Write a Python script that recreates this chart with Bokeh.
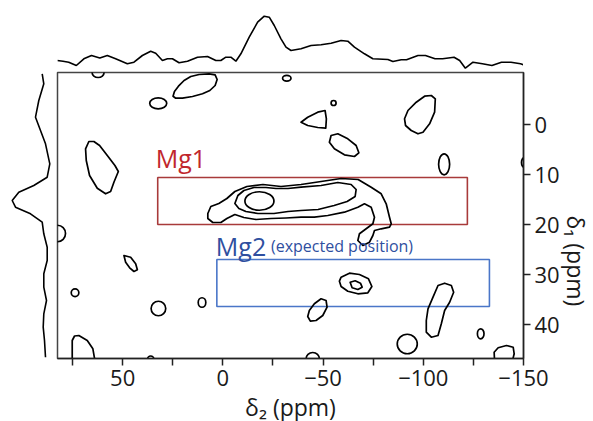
import math
from bokeh.plotting import figure
from bokeh.models import Range1d, FixedTicker, Spacer
from bokeh.layouts import row, column
from bokeh.embed import file_html
from bokeh.resources import INLINE
from bokeh.core.properties import value

# ---------------- axes ----------------
X_START, X_END = 82.5, -150.0      # delta2 (ppm), reversed
Y_START, Y_END = 46.8, -10.4       # delta1 (ppm), reversed (0 at top)
x_ticks = [75, 50, 25, 0, -25, -50, -75, -100, -125, -150]
x_tick_labels = {75: "", 50: "50", 25: "", 0: "0", -25: "", -50: "\u221250",
                 -75: "", -100: "\u2212100", -125: "", -150: "\u2212150"}
y_ticks = [0, 10, 20, 30, 40]
y_tick_labels = {0: "0", 10: "10", 20: "20", 30: "30", 40: "40"}

# ---------------- 1D projections ----------------
top_ppm = [82.6, 79.75, 76.9, 73.1, 69.35, 65.55, 61.4, 57.65, 53.5, 47.65,
           44.35, 40.15, 36, 33.5, 30.15, 27.65, 25.15, 21.85, 17.65, 12.65,
           7.65, 3.5, 1, -1.5, -4, -6.5, -9, -13.15, -17.35, -20.65,
           -23.15, -25.65, -29, -31.5, -34, -39, -44, -49, -54, -59,
           -62.35, -65.65, -70.65, -74.85, -82.35, -84.85, -89, -91.65, -97.35, -101.1,
           -105.85, -109.65, -115.35, -118.15, -121, -124.8, -129.5, -134.25, -139, -143.75,
           -148.5, -151.3]
top_int = [12, 11.3, 10.3, 7, 13.7, 17, 14.5, 17, 13.7, 8.7,
           10.3, 17, 21.3, 19.3, 12, 13.7, 13.7, 9.7, 11.3, 15.3,
           16, 12, 12, 15.3, 15.3, 11.3, 18.7, 35.3, 50.3, 56.3,
           55.3, 47, 33.7, 25.3, 22, 23.7, 27, 27.7, 29.3, 32,
           31.3, 25.3, 18.7, 13.7, 13, 11, 12.7, 12.7, 17, 17,
           13.7, 13.7, 15.3, 12, 4.3, 10.3, 8.7, 7, 10.3, 10.3,
           8.7, 7]

left_ppm = [-10.14, -8.14, -4.8, -1.46, 1.2, 3.86, 7.86, 10.54, 12.2, 13.54,
            15.2, 16.54, 17.86, 19.54, 21.86, 24.54, 27.2, 29.86, 32.54, 35.2,
            37.86, 40.54, 43.2, 46.54]
left_int = [15.3, 13.7, 18.7, 22, 17, 12, 7.7, 10.3, 23.7, 38.7,
            45.3, 42, 27, 15.3, 13.7, 10.3, 10.3, 13.7, 13.7, 11,
            13.7, 14.3, 13, 12]

# ---------------- contour blobs (ellipse-like) ----------------
ell_x = [62.25, 32.25, -31.9, -55.25, -110.4, -150.5, 82.5, 73.75, 32.15, 10.4,
         36.0, -92.0, -128.65, -44.85, -18.25]
ell_y = [-10.4, -4.24, -9.24, -4.3, 7.96, 7.6, 21.8, 33.64, 36.8, 35.6,
         47.0, 43.9, 41.86, 46.9, 15.3]
ell_w = [6.0, 8.5, 4.2, 2.5, 5.5, 3.0, 8.0, 3.8, 7.3, 3.8,
         3.3, 10.0, 3.3, 6.7, 14.5]
ell_h = [2.0, 2.2, 1.14, 1.0, 4.2, 2.0, 3.3, 1.54, 2.9, 1.9,
         1.4, 3.9, 2.0, 2.6, 3.7]

# ---------------- contour lines (closed polygons) ----------------
contour_xs = [
    [24.85, 24.15, 22.15, 19.35, 16, 11.85, 6.85, 3.85, 2.85, 3.85, 6.5, 10.15, 15.15, 20.15, 23.5],
    [66.85, 68.5, 68.15, 66.5, 62.65, 58.5, 56, 54.35, 52.15, 53.85, 57.65, 61.5, 64.35],
    [-39, -42.35, -47.35, -51, -51.65, -51.35, -47.35, -42.35],
    [-54, -57.35, -62.35, -66.5, -67.85, -65.65, -60.65, -55.65, -53.15],
    [-90.65, -92.35, -96.5, -100.65, -104, -106, -105.65, -103.15, -99.85, -97.35, -94, -91.15],
    [49.35, 46, 43.5, 42.65, 44.35, 46.5, 48.5],
    [75.15, 75.15, 74, 71.85, 67.65, 64.85, 63.5],
    [-59, -63.15, -68.15, -72.65, -74.35, -72.35, -67.35, -62.35, -59, -58.15],
    [-63.5, -66, -68.65, -69.5, -67.35, -64.5],
    [-42.35, -43.15, -45.65, -49, -51.5, -52, -49.85, -46.5, -43.65],
    [-101.5, -102.35, -104.85, -107.35, -110.65, -114, -115.15, -113.15, -110.65, -109, -107.35, -104, -101.5],
    [-135.65, -135.35, -137.35, -141.5, -144.85, -145.35, -144],
    [7.5, 6, 2, -2, -6, -12, -20, -29, -39, -49, -59, -67.5, -74, -79, -81.5,
     -83.15, -84, -83.15, -79, -75.65, -74.85, -73.15, -69.85, -67.35, -68.15,
     -71.5, -74.85, -75.65, -74, -70.65, -67.35, -60.65, -52.35, -45.65, -39,
     -31.5, -24, -16.5, -10.5, -6, -2, 1, 5, 7.5],
    [-6, -7.5, -10.5, -15.5, -21.5, -26.5, -32.5, -39, -49, -57.35, -64, -66.5, -66,
     -62, -55.5, -47.5, -39, -32.5, -25.5, -17.5, -11.5, -8],
]
contour_ys = [
    [-5.66, -6.6, -7.66, -8.8, -9.6, -10.0, -10.14, -9.94, -9.0, -7.8, -6.8, -6.14, -5.6, -5.26, -5.26],
    [3.4, 4.86, 7.2, 10.2, 12.74, 13.86, 13.4, 11.54, 9.4, 8.2, 6.2, 4.2, 3.4],
    [-0.46, -1.46, -2.46, -2.8, -1.14, 0.74, 0.6, 0.2],
    [2.2, 1.86, 2.86, 4.2, 5.66, 6.4, 6.06, 4.86, 3.54],
    [-1.14, -2.8, -4.46, -5.66, -5.8, -5.14, -2.46, -0.14, 1.54, 1.86, 1.2, 0.2],
    [26.2, 26.54, 27.86, 29.06, 29.4, 28.66, 27.54],
    [48, 43.2, 42.3, 42.2, 43.2, 44.86, 48],
    [30.54, 29.74, 30, 30.86, 32.4, 33.66, 33.86, 33.34, 32.4, 31.34],
    [31.54, 31.26, 31.74, 32.54, 33, 32.66],
    [38.4, 37.2, 35.86, 34.86, 35.2, 36.54, 38.2, 39.2, 39.34],
    [39.2, 36.86, 34.54, 32.2, 31.74, 32.2, 33.54, 35.54, 37.2, 39.86, 42.2, 42.54, 41.54],
    [48, 45.54, 44.66, 44.2, 44.54, 45.86, 48],
    [17.8, 16.4, 15.8, 14.8, 13.4, 12.4, 12, 12.4, 12, 11.4, 10.8, 11.0, 12.54, 13.86, 15.86,
     18.54, 19.86, 20.54, 20.86, 21.2, 22.2, 23.54, 24.2, 23.2, 21.86,
     20.86, 19.86, 18.54, 16.54, 15.86, 16.54, 17.54, 18.2, 18.54, 18.54,
     18.7, 18.8, 19, 18.6, 18, 18.8, 19.6, 19.6, 18.8],
    [15.8, 14.2, 13.2, 12.6, 12.6, 12.8, 12.8, 12.54, 12.2, 11.6, 12, 13, 14.4,
     15.4, 16.2, 17, 17.2, 17.4, 17.8, 17.8, 17.4, 16.8],
]

# ---------------- site boxes ----------------
box_names = ["Mg1", "Mg2"]
box_left = [32.5, 3.0]
box_right = [-122.0, -133.0]
box_top = [10.6, 27.0]
box_bottom = [20.0, 36.4]
box_colors = ["#a83a3a", "#4a76c8"]
label_x = [33.5, 3.5]
label_y = [6.6, 24.3]
label_colors = ["#c1272d", "#2f4f9f"]
note_text = "(expected position)"
note_x = -24.0
note_y = 24.3

FONT = "Open Sans"
LW = 1.7

# ---------------- main 2D panel ----------------
p = figure(frame_width=466, frame_height=286,
           x_range=Range1d(X_START, X_END), y_range=Range1d(Y_START, Y_END),
           x_axis_location="below", y_axis_location="right",
           output_backend="svg", toolbar_location=None,
           min_border_left=2, min_border_top=2, min_border_right=0, min_border_bottom=0)
p.grid.visible = False
p.outline_line_color = "#444444"
p.outline_line_width = 1.5
p.background_fill_color = "white"
p.border_fill_color = "white"

for ax in (p.xaxis[0], p.yaxis[0]):
    ax.axis_line_color = "#222222"
    ax.axis_line_width = 1.5
    ax.major_tick_line_color = "#222222"
    ax.major_tick_line_width = 1.5
    ax.major_tick_out = 7
    ax.major_tick_in = 0
    ax.minor_tick_line_color = None
    ax.major_label_text_font = FONT
    ax.major_label_text_font_size = "22px"
    ax.major_label_text_color = "#1a1a1a"
    ax.axis_label_text_font = FONT
    ax.axis_label_text_font_size = "23px"
    ax.axis_label_text_font_style = "normal"
    ax.axis_label_text_color = "#1a1a1a"

p.xaxis[0].ticker = FixedTicker(ticks=x_ticks)
p.xaxis[0].major_label_overrides = x_tick_labels
p.xaxis[0].axis_label = "\u03b4\u2082 (ppm)"
p.xaxis[0].major_label_standoff = 4
p.xaxis[0].axis_label_standoff = 2

p.yaxis[0].ticker = FixedTicker(ticks=y_ticks)
p.yaxis[0].major_label_overrides = y_tick_labels
p.yaxis[0].axis_label = "\u03b4\u2081 (ppm)"
p.yaxis[0].major_label_standoff = 4
p.yaxis[0].axis_label_standoff = 13
try:
    p.yaxis[0].axis_label_orientation = -math.pi / 2
except Exception:
    pass

p.quad(left=box_left, right=box_right, top=box_top, bottom=box_bottom,
       fill_color=None, line_color=box_colors, line_width=1.6)

p.patches(xs=contour_xs, ys=contour_ys, fill_color=None, line_color="black",
          line_width=LW, line_join="round")
p.ellipse(x=ell_x, y=ell_y, width=ell_w, height=ell_h, fill_color=None,
          line_color="black", line_width=LW)

p.text(x=label_x, y=label_y, text=box_names, text_color=label_colors,
       text_font=value(FONT), text_font_size="25px", text_baseline="alphabetic",
       text_align="left")
p.text(x=[note_x], y=[note_y], text=[note_text], text_color=label_colors[1],
       text_font=value(FONT), text_font_size="16px", text_baseline="alphabetic",
       text_align="left")

# ---------------- top projection ----------------
top = figure(frame_width=466, frame_height=70, x_range=p.x_range, y_range=Range1d(2, 72),
             x_axis_location=None, y_axis_location=None,
             output_backend="svg", toolbar_location=None,
             min_border_left=0, min_border_right=0, min_border_top=0, min_border_bottom=0)
top.grid.visible = False
top.outline_line_color = None
top.line(top_ppm, top_int, line_color="black", line_width=1.6)

# ---------------- left projection ----------------
left = figure(frame_width=55, frame_height=286, x_range=Range1d(57, 2), y_range=p.y_range,
              x_axis_location=None, y_axis_location=None,
              output_backend="svg", toolbar_location=None,
              min_border_left=0, min_border_right=0, min_border_top=2, min_border_bottom=0)
left.grid.visible = False
left.outline_line_color = None
left.line(left_int, left_ppm, line_color="black", line_width=1.6)

layout = column(row(Spacer(width=57, height=70), top), row(left, p))

open("out.html", "w").write(file_html(layout, INLINE))
